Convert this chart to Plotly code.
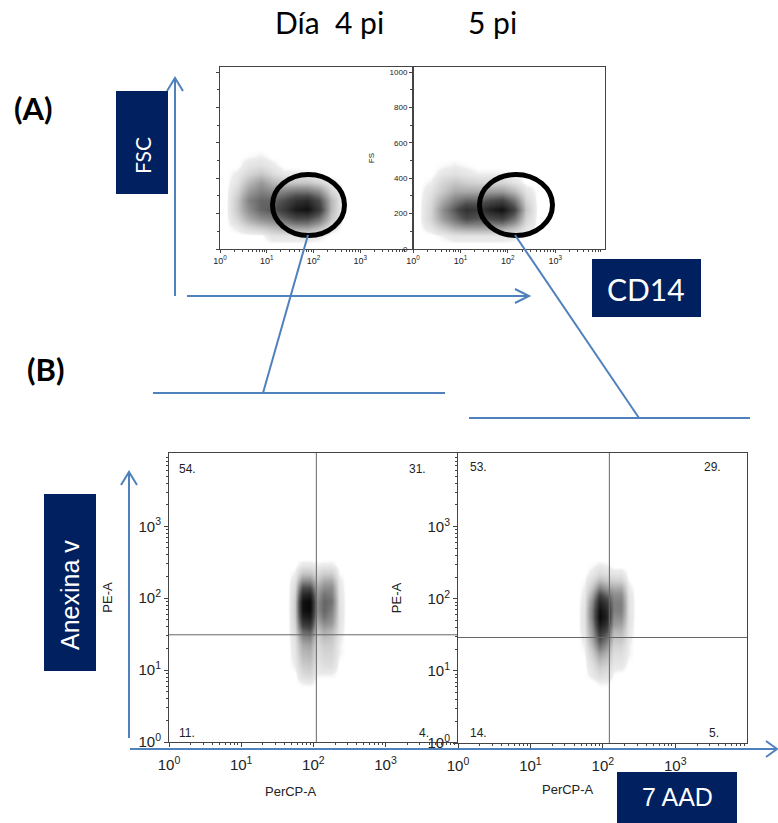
import plotly.graph_objects as go

W, H = 778, 823
def px(x): return x / W
def py(y): return 1 - y / H

# ---------------- DATA ----------------
# Panel A: CD14 (log10 bin edges) x FSC (linear bin edges), density
cd14_log_edges = [0.0, 0.25, 0.5, 0.75, 1.0, 1.25, 1.5, 1.75, 2.0, 2.25, 2.5, 2.75, 3.0]
fsc_edges = [0, 50, 100, 150, 200, 250, 300, 350, 400, 450, 500, 550, 600]
dia4_fsc_density = [
    [0, 0,   0,   0,   0,   0,   0,   0,   0,   0,   0, 0],
    [0, 0,   0,   0,   0.5, 0.5, 0.5, 0.5, 0.3, 0,   0, 0],
    [0, 0.3, 1,   1.5, 2,   2.5, 3,   3,   2,   0.5, 0, 0],
    [0, 1,   2.5, 3.5, 4,   5,   6,   6,   4.5, 1.5, 0, 0],
    [0, 1.5, 3.5, 5,   5.5, 7,   9,   9.5, 7,   2,   0, 0],
    [0, 1.5, 4,   5,   5,   6,   7.5, 8,   6,   2,   0, 0],
    [0, 1,   3,   4,   3.5, 4,   4.5, 4.5, 3.5, 1,   0, 0],
    [0, 0.5, 2,   3,   2,   1.5, 1.5, 1.5, 1,   0.3, 0, 0],
    [0, 0.3, 1,   1.5, 0.8, 0.3, 0.3, 0.2, 0,   0,   0, 0],
    [0, 0,   0.5, 0.6, 0.3, 0,   0,   0,   0,   0,   0, 0],
    [0, 0,   0.1, 0.2, 0,   0,   0,   0,   0,   0,   0, 0],
    [0, 0,   0,   0,   0,   0,   0,   0,   0,   0,   0, 0],
]
dia5_fsc_density = [
    [0, 0,   0,   0,   0,   0,   0,   0,   0,   0,   0, 0],
    [0, 0,   0.2, 0.5, 0.5, 0.5, 0.5, 0.5, 0.3, 0,   0, 0],
    [0, 0.5, 1.5, 2.5, 3,   3,   3,   3,   2,   0.5, 0, 0],
    [0, 1,   3,   4.5, 6,   5.5, 6,   6.5, 4.5, 1,   0, 0],
    [0, 1,   3.5, 5.5, 7.5, 7,   8.5, 9.5, 6.5, 1.5, 0, 0],
    [0, 0.8, 2.5, 4,   5,   5,   6,   6.5, 4.5, 1,   0, 0],
    [0, 0.5, 1.5, 2.5, 2.5, 2.5, 3,   3,   2,   0.5, 0, 0],
    [0, 0.2, 1,   1.5, 1.2, 1,   1,   1,   0.5, 0,   0, 0],
    [0, 0,   0.4, 0.6, 0.4, 0.2, 0.2, 0.2, 0,   0,   0, 0],
    [0, 0,   0.1, 0.2, 0.1, 0,   0,   0,   0,   0,   0, 0],
    [0, 0,   0,   0,   0,   0,   0,   0,   0,   0,   0, 0],
    [0, 0,   0,   0,   0,   0,   0,   0,   0,   0,   0, 0],
]
fsc_ticks = [0, 200, 400, 600, 800, 1000]

# Panel B: PerCP-A (7AAD) x PE-A (Anexina V), log10 bin edges
percp_log_edges = [1.6, 1.7, 1.8, 1.9, 2.0, 2.1, 2.2, 2.3, 2.4, 2.5]
pe_log_edges = [0.7, 0.8, 0.9, 1.0, 1.1, 1.2, 1.3, 1.4, 1.5, 1.6, 1.7, 1.8, 1.9,
                2.0, 2.1, 2.2, 2.3, 2.4, 2.5, 2.6]
dia4_anx_density = [
    [0, 0,   0,   0,    0,   0,   0,   0,   0],
    [0, 0,   0.3, 0.4,  0,   0,   0,   0,   0],
    [0, 0,   0.8, 1,    0.2, 0.2, 0.2, 0,   0],
    [0, 0.2, 1.2, 1.4,  0.3, 0.6, 0.6, 0,   0],
    [0, 0.3, 1.6, 1.8,  0.5, 0.8, 0.8, 0.1, 0],
    [0, 0.4, 2,   2.2,  0.6, 1,   1,   0.2, 0],
    [0, 0.5, 2.5, 2.8,  0.8, 1.3, 1.2, 0.2, 0],
    [0, 0.6, 3.5, 3.8,  1,   1.8, 1.5, 0.3, 0],
    [0, 0.8, 5,   5.5,  1.5, 2.5, 2,   0.4, 0],
    [0, 1,   7,   7.5,  2.2, 3.5, 3,   0.5, 0],
    [0, 1.2, 8.5, 9,    3,   4.5, 3.5, 0.6, 0],
    [0, 1.3, 9.5, 10,   3.5, 5,   4,   0.6, 0],
    [0, 1.3, 9.5, 10,   3.5, 5,   4.5, 0.6, 0],
    [0, 1,   8,   8.5,  3,   4.5, 4,   0.5, 0],
    [0, 0.8, 6,   6,    2.5, 3.5, 3.5, 0.4, 0],
    [0, 0.5, 3.5, 3.5,  1.5, 2.5, 2.5, 0.3, 0],
    [0, 0.2, 1.5, 1.5,  0.8, 1.2, 1.2, 0.1, 0],
    [0, 0,   0.4, 0.4,  0.2, 0.3, 0.3, 0,   0],
    [0, 0,   0,   0,    0,   0,   0,   0,   0],
]
dia5_anx_density = [
    [0, 0,   0,   0,   0,   0,   0,   0,   0],
    [0, 0,   0,   0.2, 0.2, 0,   0,   0,   0],
    [0, 0,   0.3, 0.8, 0.6, 0.1, 0,   0,   0],
    [0, 0,   0.5, 1.3, 1,   0.3, 0.3, 0,   0],
    [0, 0,   0.8, 2,   1.5, 0.5, 0.5, 0.1, 0],
    [0, 0.1, 1.2, 3,   2.2, 0.7, 0.7, 0.2, 0],
    [0, 0.2, 1.8, 4.5, 3.2, 1,   1,   0.2, 0],
    [0, 0.3, 2.5, 6,   4.5, 1.5, 1.5, 0.3, 0],
    [0, 0.4, 3,   7.5, 6,   2,   2,   0.4, 0],
    [0, 0.5, 3.5, 9,   7.5, 3,   2.8, 0.5, 0],
    [0, 0.5, 4,   10,  8.5, 3.5, 3.5, 0.6, 0],
    [0, 0.5, 4,   9.5, 8,   4,   4,   0.6, 0],
    [0, 0.4, 3.5, 8.5, 7,   4,   4,   0.6, 0],
    [0, 0.3, 2.5, 6.5, 5,   3.5, 3.5, 0.5, 0],
    [0, 0.2, 1.5, 4,   3,   2.5, 2.5, 0.3, 0],
    [0, 0.1, 0.8, 2,   1.5, 1.2, 1.2, 0.1, 0],
    [0, 0,   0.3, 0.8, 0.6, 0.4, 0.4, 0,   0],
    [0, 0,   0.1, 0.3, 0.2, 0,   0,   0,   0],
    [0, 0,   0,   0,   0,   0,   0,   0,   0],
]
# quadrant gates (PerCP-A, PE-A) and quadrant percentages [UL, UR, LL, LR]
gate_dia4 = (110, 31)
gate_dia5 = (123, 29)
quad_dia4 = ["54.", "31.", "11.", "4."]
quad_dia5 = ["53.", "29.", "14.", "5."]

decades = [1, 10, 100, 1000]
decade_text = ["10<sup>0</sup>", "10<sup>1</sup>", "10<sup>2</sup>", "10<sup>3</sup>"]
minor_vals = [m * d for d in [1, 10, 100, 1000] for m in range(2, 10)]

# ---------------- FIGURE ----------------
NAVY = "#002060"
BLUE = "#4F81BD"
GRAYSCALE = [[0, "rgba(255,255,255,0)"], [0.02, "rgba(236,236,236,1)"],
             [0.3, "#9a9a9a"], [0.6, "#4a4a4a"], [1, "#080808"]]

fig = go.Figure()

def heat(xedges_log, yedges, z, xa, ya, ylog):
    fig.add_trace(go.Heatmap(
        x=[10 ** v for v in xedges_log],
        y=[10 ** v for v in yedges] if ylog else yedges,
        z=z, xaxis=xa, yaxis=ya, zmin=0, zmax=10, zsmooth="best",
        colorscale=GRAYSCALE, showscale=False, hoverinfo="skip"))

heat(cd14_log_edges, fsc_edges, dia4_fsc_density, "x", "y", False)
heat(cd14_log_edges, fsc_edges, dia5_fsc_density, "x2", "y2", False)
heat(percp_log_edges, pe_log_edges, dia4_anx_density, "x3", "y3", True)
heat(percp_log_edges, pe_log_edges, dia5_anx_density, "x4", "y4", True)

# quadrant gate lines
for (gx, gy), xa, ya in [(gate_dia4, "x3", "y3"), (gate_dia5, "x4", "y4")]:
    fig.add_trace(go.Scatter(x=[gx, gx], y=[1, 10 ** 4.1], mode="lines", xaxis=xa, yaxis=ya,
                             line=dict(color="#666", width=1), hoverinfo="skip", showlegend=False))
    fig.add_trace(go.Scatter(x=[1, 10 ** 4.1], y=[gy, gy], mode="lines", xaxis=xa, yaxis=ya,
                             line=dict(color="#666", width=1), hoverinfo="skip", showlegend=False))

AX_FONT = dict(family="Arial", size=13, color="#222")
common = dict(showgrid=False, zeroline=False, showline=True, mirror=True, automargin=False,
              linecolor="#444", linewidth=1, ticks="outside", tickcolor="#444")

def logx(anchor, domain, rng, fontsize, ticklen, labelstandoff=0):
    return dict(common, type="log", anchor=anchor, domain=domain, range=rng, tickvals=decades,
                ticktext=decade_text, ticklen=ticklen, tickfont=dict(AX_FONT, size=fontsize),
                ticklabelstandoff=labelstandoff,
                minor=dict(tickvals=minor_vals, ticks="outside", ticklen=max(2, ticklen - 2),
                           tickcolor="#444"))

layout = dict(
    width=W, height=H, autosize=False, margin=dict(l=0, r=0, t=0, b=0),
    paper_bgcolor="white", plot_bgcolor="white", showlegend=False,
    xaxis=logx("y", [px(220), px(413)], [0, 4.13], 9, 3),
    xaxis2=logx("y2", [px(413), px(605)], [0, 4.05], 9, 3),
    xaxis3=logx("y3", [px(169), px(457)], [0, 3.99], 15, 4, 5),
    xaxis4=logx("y4", [px(458), px(747)], [0, 3.99], 15, 4, 5),
    yaxis=dict(common, anchor="x", domain=[py(249), py(67)], range=[0, 1030], tickvals=fsc_ticks,
               showticklabels=False, ticklen=3,
               minor=dict(dtick=100, ticks="outside", ticklen=2, tickcolor="#444")),
    yaxis2=dict(common, anchor="x2", domain=[py(249), py(67)], range=[0, 1030], tickvals=fsc_ticks,
                ticklen=3, tickfont=dict(AX_FONT, size=8),
                title=dict(text="FS", font=dict(AX_FONT, size=8), standoff=13),
                minor=dict(dtick=100, ticks="outside", ticklen=2, tickcolor="#444")),
)
for k, anc, dom in [("yaxis3", "x3", [py(742), py(453)]), ("yaxis4", "x4", [py(743), py(453)])]:
    layout[k] = dict(common, type="log", anchor=anc, domain=dom, range=[0, 4.02], tickvals=decades,
                     ticktext=decade_text, ticklen=4, tickfont=dict(AX_FONT, size=15),
                     title=dict(text="PE-A", font=AX_FONT, standoff=22),
                     minor=dict(tickvals=minor_vals, ticks="outside", ticklen=2, tickcolor="#444"))
fig.update_layout(**layout)

shapes = []
annotations = []

def line(x0, y0, x1, y1, color=BLUE, width=2):
    shapes.append(dict(type="line", xref="paper", yref="paper", x0=px(x0), y0=py(y0),
                       x1=px(x1), y1=py(y1), line=dict(color=color, width=width)))

def chevron(pts, color=BLUE, width=2):
    path = "M " + " L ".join(f"{px(a)},{py(b)}" for a, b in pts)
    shapes.append(dict(type="path", xref="paper", yref="paper", path=path,
                       line=dict(color=color, width=width)))

def box(x0, y0, x1, y1, color=NAVY):
    shapes.append(dict(type="rect", xref="paper", yref="paper", x0=px(x0), y0=py(y1),
                       x1=px(x1), y1=py(y0), fillcolor=color, line=dict(width=0), layer="above"))

def text(x, y, s, size, family="Lato", color="black", angle=0, xanchor="center", bold=False):
    if bold:
        s = f"<b>{s}</b>"
    annotations.append(dict(x=px(x), y=py(y), xref="paper", yref="paper", text=s, showarrow=False,
                            font=dict(family=family, size=size, color=color), textangle=angle,
                            xanchor=xanchor, yanchor="middle"))

# gating ellipses
shapes.append(dict(type="circle", xref="paper", yref="paper", x0=px(272.5), x1=px(344.5),
                   y0=py(235.5), y1=py(174.5), line=dict(color="black", width=5)))
shapes.append(dict(type="circle", xref="paper", yref="paper", x0=px(479.5), x1=px(552.5),
                   y0=py(235.5), y1=py(174.5), line=dict(color="black", width=5)))

# Panel A axes arrows
line(175, 296, 175, 79)
chevron([(167, 91), (175, 78), (183, 91)])
line(187, 296, 528, 296)
chevron([(515, 289), (529, 296), (515, 303)])

# connecting lines
line(308, 235, 263, 393)
line(153, 393, 445, 393)
line(515, 235, 639, 418)
line(469, 418, 750, 418)

# Panel B axes arrows
line(129, 738, 129, 473)
chevron([(121, 485), (129, 472), (137, 485)])
line(130, 749, 776, 749)
chevron([(766, 741), (777, 749), (766, 757)])

# label boxes
box(116, 91, 168, 194)
box(592, 259, 701, 317)
box(44, 494, 96, 671)
box(617, 772, 737, 823)

text(142, 156, "FSC", 21, color="white", angle=-90)
text(646, 289, "CD14", 30, color="white")
text(70, 595, "Anexina v", 25, family="Arial", color="white", angle=-90)
text(677, 797, "7 AAD", 25, family="Arial", color="white")

text(329, 22, "Día  4 pi", 30)
text(492, 22, "5 pi", 30)
text(33, 108, "(A)", 31, bold=True)
text(45, 369, "(B)", 31, bold=True)

# x-axis titles of panel B (offset from the plot centres, as in the original)
text(291, 791, "PerCP-A", 13, family="Arial", color="#222")
text(568, 789, "PerCP-A", 13, family="Arial", color="#222")

# quadrant percentages
qfont = 12
for lbl, (x, y) in zip(quad_dia4, [(177, 469), (407, 469), (177, 733), (417, 733)]):
    text(x, y, lbl, qfont, family="Arial", color="#222", xanchor="left")
for lbl, (x, y) in zip(quad_dia5, [(468, 467), (702, 467), (468, 733), (707, 733)]):
    text(x, y, lbl, qfont, family="Arial", color="#222", xanchor="left")

fig.update_layout(shapes=shapes, annotations=annotations)
fig.write_html("out.html")
